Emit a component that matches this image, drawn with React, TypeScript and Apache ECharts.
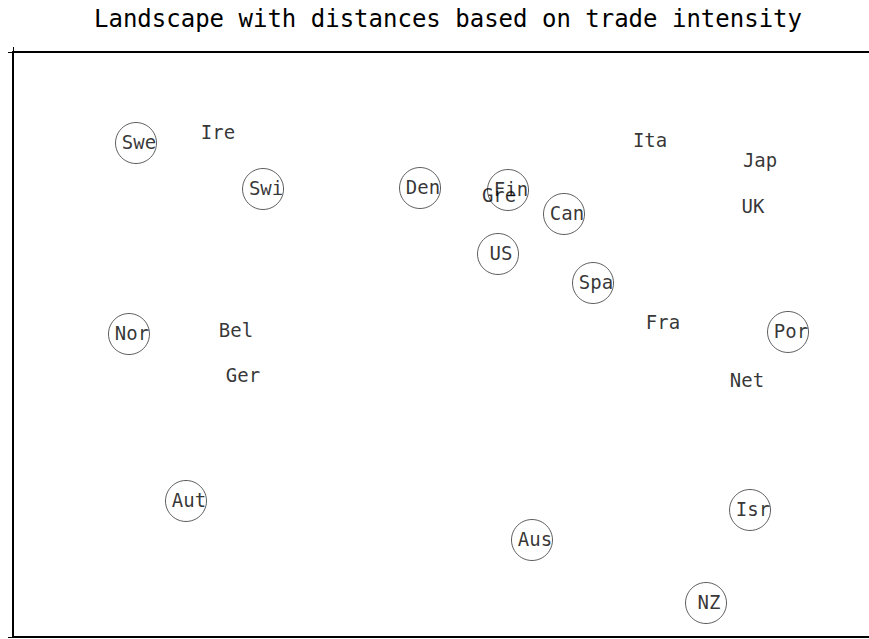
import React, { useEffect, useRef } from "react";
import * as echarts from "echarts";

const circledNames = ["Swe", "Swi", "Den", "Fin", "Can", "US", "Spa", "Por", "Nor", "Aut", "Isr", "Aus", "NZ"];
const circledX = [14.37, 29.21, 47.55, 57.83, 64.37, 56.66, 67.76, 90.54, 13.55, 20.21, 86.1, 60.63, 80.96];
const circledY = [84.44, 76.58, 76.75, 76.41, 72.31, 65.47, 60.51, 52.14, 51.79, 23.25, 21.71, 16.58, 5.81];

const plainNames = ["Ire", "Gre", "Ita", "Jap", "UK", "Fra", "Bel", "Ger", "Net"];
const plainX = [23.6, 56.43, 74.07, 86.92, 86.1, 75.58, 25.7, 26.52, 85.4];
const plainY = [86.15, 75.38, 84.79, 81.37, 73.5, 53.68, 52.31, 44.62, 43.76];

const FONT = "'DejaVu Sans Mono', monospace";

export default function App() {
  const ref = useRef<HTMLDivElement>(null);
  useEffect(() => {
    if (!ref.current) return;
    const chart = echarts.init(ref.current, undefined, { renderer: "svg" });
    const labelStyle = {
      show: true,
      position: "inside" as const,
      formatter: (p: any) => p.data[2],
      color: "#000",
      textBorderWidth: 0,
      textBorderColor: "transparent",
      fontFamily: FONT,
      fontSize: 19,
      offset: [3, -1],
    };
    chart.setOption({
      animation: false,
      backgroundColor: "#fff",
      title: {
        text: "Landscape with distances based on trade intensity",
        left: 89,
        top: 2,
        textStyle: { fontFamily: FONT, fontSize: 24, fontWeight: "normal", color: "#000" },
      },
      grid: { left: 13, right: 0, top: 52, bottom: 2 },
      xAxis: [
        {
          type: "value",
          min: 0,
          max: 100,
          interval: 100,
          position: "bottom",
          axisLine: { show: true, lineStyle: { color: "#000", width: 2 } },
          axisTick: { show: false },
          axisLabel: { show: false },
          splitLine: { show: false },
        },
        {
          type: "value",
          min: 0,
          max: 100,
          interval: 100,
          position: "top",
          axisLine: { show: true, lineStyle: { color: "#000", width: 2 } },
          axisTick: { show: true, length: 5, lineStyle: { color: "#000", width: 1 } },
          axisLabel: { show: false },
          splitLine: { show: false },
        },
      ],
      yAxis: {
        type: "value",
        min: 0,
        max: 100,
        interval: 100,
        axisLine: { show: true, lineStyle: { color: "#000", width: 2 } },
        axisTick: { show: true, length: 5, lineStyle: { color: "#000", width: 1 } },
        axisLabel: { show: false },
        splitLine: { show: false },
      },
      series: [
        {
          type: "scatter",
          xAxisIndex: 0,
          data: circledNames.map((n, i) => [circledX[i], circledY[i], n]),
          symbol: "circle",
          symbolSize: 41,
          itemStyle: { color: "rgba(0,0,0,0)", borderColor: "#333", borderWidth: 1 },
          label: labelStyle,
        },
        {
          type: "scatter",
          xAxisIndex: 0,
          data: plainNames.map((n, i) => [plainX[i], plainY[i], n]),
          symbol: "circle",
          symbolSize: 1,
          itemStyle: { color: "rgba(0,0,0,0)" },
          label: labelStyle,
        },
      ],
    });
    return () => chart.dispose();
  }, []);
  return (
    <div
      ref={ref}
      style={{ position: "fixed", left: 0, top: 0, width: 869, height: 639, background: "#fff" }}
    />
  );
}
